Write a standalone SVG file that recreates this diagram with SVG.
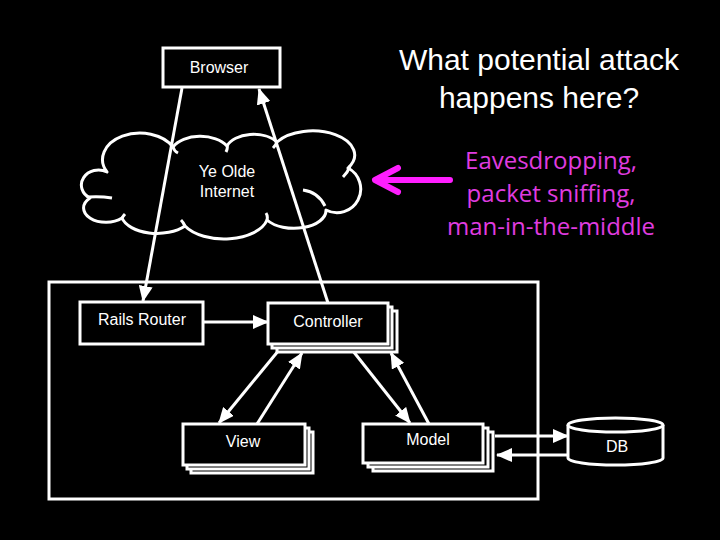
<svg xmlns="http://www.w3.org/2000/svg" width="720" height="540" viewBox="0 0 720 540">
<style>
.box{fill:#000;stroke:#fff;stroke-width:3}
.lbl{font-family:"Liberation Sans",Arial,sans-serif;font-size:16px;fill:#fff;text-anchor:middle}
.ln{stroke:#fff;stroke-width:3;fill:none}
.title{font-family:"Liberation Sans",Arial,sans-serif;font-size:30px;fill:#fff;text-anchor:middle}
.mag{font-family:"Open Sans","Liberation Sans",sans-serif;font-size:24px;fill:#e03ce0;text-anchor:middle}
</style>
<defs>
<marker id="ah" markerUnits="userSpaceOnUse" markerWidth="16" markerHeight="14" refX="15" refY="7" orient="auto">
<path d="M0,0 L16,7 L0,14 Z" fill="#fff"/>
</marker>
</defs>
<rect width="720" height="540" fill="#000"/>

<g id="title">
<text class="title" x="539" y="70">What potential attack</text>
<text class="title" x="539" y="108">happens here?</text>
</g>

<g id="system-boundary">
<rect class="box" x="49" y="282" width="489" height="217" fill="none"/>
</g>

<g id="cloud">
<path class="box" stroke-linejoin="round" d="M107,172 A34,24 0 0 1 173,147 A30,18 0 0 1 227,146 A28,17 0 0 1 277,142 A42,24 0 0 1 348,168 A22,22 0 0 1 326,210 A32,18 0 0 1 267,220 A44,24 0 0 1 185,226 A36,20 0 0 1 122,218 A22,14 0 0 1 90,198 A16,14 0 0 1 107,172 Z"/>
<path class="ln" d="M88,197 Q100,196 112,198 M303,190 Q318,192 325,206 M343,177 Q348,172 350,166 M185,226 Q183,222 181,220 M267,220 Q268,216 266,213 M122,218 Q124,215 125,214 M173,147 Q174,151 178,153 M227,146 Q228,148 226,152 M277,142 Q276,145 273,148"/>
<text class="lbl" x="227" y="177">Ye Olde</text>
<text class="lbl" x="227" y="197">Internet</text>
</g>

<g id="connectors">
<line class="ln" x1="182" y1="88" x2="143" y2="301" marker-end="url(#ah)"/>
<line class="ln" x1="328" y1="303" x2="259" y2="89" marker-end="url(#ah)"/>
<line class="ln" x1="204" y1="322" x2="268" y2="322" marker-end="url(#ah)"/>
<line class="ln" x1="279" y1="350" x2="219" y2="423" marker-end="url(#ah)"/>
<line class="ln" x1="257" y1="424" x2="302" y2="353" marker-end="url(#ah)"/>
<line class="ln" x1="353" y1="351" x2="410" y2="423" marker-end="url(#ah)"/>
<line class="ln" x1="429" y1="424" x2="391" y2="353" marker-end="url(#ah)"/>
<line class="ln" x1="495" y1="436" x2="568" y2="436" marker-end="url(#ah)"/>
<line class="ln" x1="568" y1="455" x2="497" y2="455" marker-end="url(#ah)"/>
</g>

<g id="attack-arrow">
<path d="M450,180 L378,180 M398,168 L375,180 L398,192" stroke="#ff1eff" stroke-width="6" stroke-linecap="round" stroke-linejoin="round" fill="none"/>
</g>

<g id="attack-label">
<text class="mag" x="551" y="169">Eavesdropping,</text>
<text class="mag" x="551" y="202">packet sniffing,</text>
<text class="mag" x="551" y="235">man-in-the-middle</text>
</g>

<g id="browser">
<rect class="box" x="163" y="48" width="117" height="39"/>
<text class="lbl" x="219" y="73">Browser</text>
</g>

<g id="rails-router">
<rect class="box" x="80" y="302" width="123" height="42"/>
<text class="lbl" x="142" y="325">Rails Router</text>
</g>

<g id="controller">
<rect class="box" x="277" y="311" width="120" height="41"/>
<rect class="box" x="272" y="307" width="120" height="41"/>
<rect class="box" x="268" y="303" width="120" height="41"/>
<text class="lbl" x="328" y="327">Controller</text>
</g>

<g id="view">
<rect class="box" x="191" y="432" width="122" height="41"/>
<rect class="box" x="187" y="428" width="122" height="41"/>
<rect class="box" x="183" y="424" width="122" height="41"/>
<text class="lbl" x="243" y="447">View</text>
</g>

<g id="model">
<rect class="box" x="373" y="432" width="120" height="39"/>
<rect class="box" x="368" y="428" width="120" height="39"/>
<rect class="box" x="363" y="424" width="120" height="39"/>
<text class="lbl" x="428" y="445">Model</text>
</g>

<g id="db">
<path class="box" d="M568,425 L568,458 A47.5,7 0 0 0 663,458 L663,425"/>
<ellipse class="box" cx="615.5" cy="425" rx="47.5" ry="7"/>
<text class="lbl" x="617" y="452">DB</text>
</g>
</svg>
